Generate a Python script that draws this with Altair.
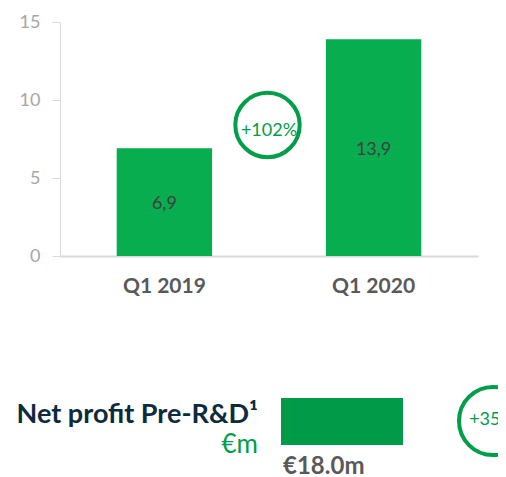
import altair as alt
import pandas as pd

periods = ["Q1 2019", "Q1 2020"]
values = [6.9, 13.9]
value_labels = ["6,9", "13,9"]
growth_label = "+102%"
y_ticks = [0, 5, 10, 15]

kpi_title = "Net profit Pre-R&D\u00b9"
kpi_unit = "€m"
kpi_value_label = "€18.0m"
kpi_growth_label = "+35%"

FONT = "Lato"
BAR_GREEN = "#07ad4f"
DARK_GREEN = "#009a48"
RING_GREEN = "#009e47"

bars_df = pd.DataFrame({"period": periods, "value": values, "label": value_labels})
bars_df["mid"] = bars_df["value"] / 2

x_enc = alt.X(
    "period:N",
    sort=periods,
    scale=alt.Scale(paddingInner=0.544, paddingOuter=0.271),
    axis=alt.Axis(
        title=None, ticks=False, labelFontSize=21, labelFontWeight="bold",
        labelColor="#595959", labelFont=FONT, labelPadding=19,
        domainColor="#d9d9d9", domainWidth=2, labelAngle=0,
    ),
)
y_scale = alt.Scale(domain=[0, 15], nice=False)

bars = alt.Chart(bars_df).mark_bar(color=BAR_GREEN).encode(
    x=x_enc,
    y=alt.Y(
        "value:Q", scale=y_scale,
        axis=alt.Axis(
            title=None, values=y_ticks, grid=False, labelFontSize=18,
            labelColor="#a6a6a6", labelFont=FONT, tickColor="#d9d9d9",
            tickSize=8, labelPadding=12, domainColor="#d9d9d9", domainWidth=1,
        ),
    ),
)

bar_text = alt.Chart(bars_df).mark_text(
    font=FONT, fontSize=18, color="#404040", baseline="middle", dy=2
).encode(
    x=alt.X("period:N", sort=periods),
    y=alt.Y("mid:Q", scale=y_scale),
    text="label:N",
)

ann_df = pd.DataFrame({"t": [growth_label]})
ring1 = alt.Chart(ann_df).mark_point(
    shape="circle", filled=False, color=RING_GREEN, strokeWidth=4, size=4150, opacity=1
).encode(x=alt.value(207.5), y=alt.value(103))
ring1_text = alt.Chart(ann_df).mark_text(
    font=FONT, fontSize=18, color=RING_GREEN, baseline="alphabetic"
).encode(x=alt.value(209), y=alt.value(114), text="t:N")

kpi_df = pd.DataFrame({
    "title": [kpi_title], "unit": [kpi_unit],
    "val": [kpi_value_label], "g": [kpi_growth_label],
})
kpi_title_m = alt.Chart(kpi_df).mark_text(
    font=FONT, fontSize=27, fontWeight="bold", color="#0d2b3e",
    align="right", baseline="alphabetic"
).encode(x=alt.value(198), y=alt.value(401), text="title:N")
kpi_unit_m = alt.Chart(kpi_df).mark_text(
    font=FONT, fontSize=26, color=RING_GREEN, align="right", baseline="alphabetic"
).encode(x=alt.value(198), y=alt.value(431), text="unit:N")
kpi_rect = alt.Chart(kpi_df).mark_rect(color=DARK_GREEN).encode(
    x=alt.value(221), x2=alt.value(343), y=alt.value(376), y2=alt.value(423)
)
kpi_val_m = alt.Chart(kpi_df).mark_text(
    font=FONT, fontSize=24, fontWeight="bold", color="#595959",
    align="left", baseline="alphabetic"
).encode(x=alt.value(223), y=alt.value(452), text="val:N")
ring2 = alt.Chart(kpi_df).mark_point(
    shape="circle", filled=False, color=RING_GREEN, strokeWidth=4, size=4624, opacity=1
).encode(x=alt.value(433), y=alt.value(399))
ring2_text = alt.Chart(kpi_df).mark_text(
    font=FONT, fontSize=18, color=RING_GREEN, baseline="alphabetic"
).encode(x=alt.value(432), y=alt.value(403), text="g:N")

chart = alt.layer(
    bars, bar_text, ring1, ring1_text,
    kpi_title_m, kpi_unit_m, kpi_rect, kpi_val_m, ring2, ring2_text,
).properties(
    width=418, height=234,
    autosize=alt.AutoSizeParams(type="none"),
    padding={"left": 52, "top": 14, "right": 20, "bottom": 221},
    background="white",
).configure_view(stroke=None)

chart.save("out.html", embed_options={"renderer": "svg", "actions": False})
